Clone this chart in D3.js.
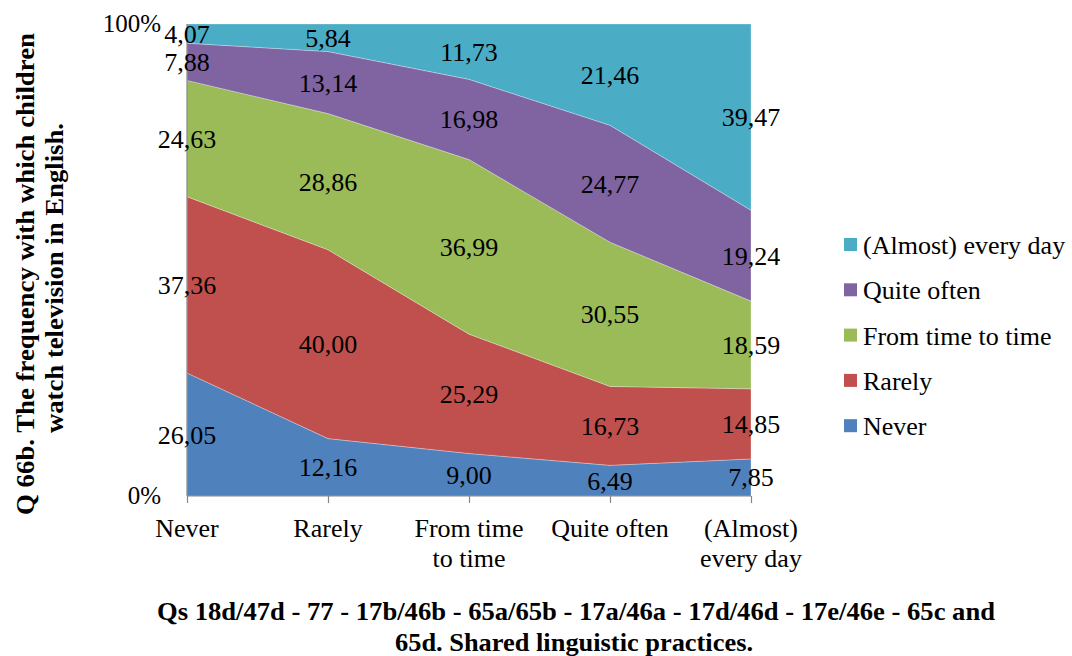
<!DOCTYPE html>
<html>
<head>
<meta charset="utf-8">
<script src="https://cdn.jsdelivr.net/npm/d3@7/dist/d3.min.js"></script>
<style>
  html, body { margin: 0; padding: 0; background: #fff; }
  svg { display: block; }
</style>
</head>
<body>
<svg id="chart" width="1072" height="656"></svg>
<script>
// Frequency categories along the x axis (one column each)
const categories = ["Never", "Rarely", "From time to time", "Quite often", "(Almost) every day"];
const categoryLines = [["Never"], ["Rarely"], ["From time", "to time"], ["Quite often"], ["(Almost)", "every day"]];

// Stacked series, bottom to top; percentages per category
const seriesNames = ["Never", "Rarely", "From time to time", "Quite often", "(Almost) every day"];
const neverVals     = [26.05, 12.16, 9.00, 6.49, 7.85];
const rarelyVals    = [37.36, 40.00, 25.29, 16.73, 14.85];
const fromTimeVals  = [24.63, 28.86, 36.99, 30.55, 18.59];
const quiteVals     = [7.88, 13.14, 16.98, 24.77, 19.24];
const almostVals    = [4.07, 5.84, 11.73, 21.46, 39.47];
const seriesColors  = ["#4F81BD", "#C0504D", "#9BBB59", "#8064A2", "#4BACC6"];
const yTickLabels   = ["0%", "100%"];

const yTitleLines = ["Q 66b. The frequency with which children", "watch television in English."];
const xTitleLines = ["Qs 18d/47d - 77 - 17b/46b - 65a/65b - 17a/46a - 17d/46d - 17e/46e - 65c and",
                     "65d. Shared linguistic practices."];

const FONT = "Liberation Serif";
const svg = d3.select("#chart");
const plot = { left: 187, right: 751, top: 24, bottom: 496 };

// Build rows for d3.stack, normalised to 100%
const allSeries = [neverVals, rarelyVals, fromTimeVals, quiteVals, almostVals];
const rows = categories.map((c, i) => {
  const r = { cat: c };
  seriesNames.forEach((s, j) => r[s] = allSeries[j][i]);
  return r;
});
const stacked = d3.stack().keys(seriesNames).offset(d3.stackOffsetExpand)(rows);

const x = d3.scalePoint().domain(categories).range([plot.left, plot.right]);
const y = d3.scaleLinear().domain([0, 1]).range([plot.bottom, plot.top]);

const area = d3.area()
  .x(d => x(d.data.cat))
  .y0(d => y(d[0]))
  .y1(d => y(d[1]));

svg.append("g").selectAll("path")
  .data(stacked)
  .join("path")
  .attr("d", area)
  .attr("fill", (d, i) => seriesColors[i])
  .attr("stroke", "rgba(255,255,255,0.35)")
  .attr("stroke-width", 0.8);

// Axes: vertical line at left, baseline with downward tick marks
const axisColor = "#868686";
svg.append("line")
  .attr("x1", plot.left).attr("x2", plot.left)
  .attr("y1", plot.top).attr("y2", plot.bottom)
  .attr("stroke", axisColor).attr("stroke-width", 1.2);
const xAxis = d3.axisBottom(x).tickSize(7).tickFormat("");
const gx = svg.append("g").attr("transform", `translate(0,${plot.bottom})`).call(xAxis);
gx.select(".domain").attr("stroke", axisColor).attr("stroke-width", 1.2).attr("d", `M${plot.left},0H${plot.right}`);
gx.selectAll(".tick line").attr("stroke", axisColor).attr("stroke-width", 1.2);

const txt = (sel) => sel.append("text").attr("font-family", FONT).attr("fill", "#000");

// Category labels, possibly two lines
categories.forEach((c, i) => {
  const t = txt(svg)
    .attr("x", x(c))
    .attr("y", 537)
    .attr("text-anchor", "middle")
    .attr("font-size", 26);
  categoryLines[i].forEach((ln, k) => {
    t.append("tspan").attr("x", x(c)).attr("dy", k === 0 ? 0 : 30).text(ln);
  });
});

// Y tick labels
yTickLabels.forEach((lab, i) => {
  txt(svg)
    .attr("x", 161)
    .attr("y", y(i) + 8)
    .attr("text-anchor", "end")
    .attr("font-size", 25)
    .text(lab);
});

// Value labels centred in each band
stacked.forEach((s, j) => {
  s.forEach((d, i) => {
    txt(svg)
      .attr("x", x(d.data.cat))
      .attr("y", y((d[0] + d[1]) / 2) + 9)
      .attr("text-anchor", "middle")
      .attr("font-size", 26)
      .text(d3.format(".2f")(allSeries[j][i]).replace(".", ","));
  });
});

// Legend, top entry is the top series
const legendOrder = seriesNames.slice().reverse();
legendOrder.forEach((name, k) => {
  const idx = seriesNames.indexOf(name);
  const yy = 245 + k * 45.3;
  svg.append("rect")
    .attr("x", 844).attr("y", yy - 7)
    .attr("width", 13).attr("height", 13)
    .attr("fill", seriesColors[idx]);
  txt(svg)
    .attr("x", 863).attr("y", yy + 9)
    .attr("font-size", 26)
    .text(name);
});

// Axis titles (bold, condensed to their line widths)
const yTitleWidths = [482, 310];
yTitleLines.forEach((ln, k) => {
  txt(svg)
    .attr("transform", "rotate(-90)")
    .attr("x", -274 + (k === 0 ? 0 : -4))
    .attr("y", k === 0 ? 34 : 63)
    .attr("text-anchor", "middle")
    .attr("font-weight", "bold")
    .attr("font-size", 25)
    .attr("textLength", yTitleWidths[k])
    .attr("lengthAdjust", "spacingAndGlyphs")
    .text(ln);
});

const xTitleWidths = [838, 358];
xTitleLines.forEach((ln, k) => {
  txt(svg)
    .attr("x", k === 0 ? 576 : 574)
    .attr("y", k === 0 ? 620 : 651)
    .attr("text-anchor", "middle")
    .attr("font-weight", "bold")
    .attr("font-size", 25)
    .attr("textLength", xTitleWidths[k])
    .attr("lengthAdjust", "spacingAndGlyphs")
    .text(ln);
});
</script>
</body>
</html>
